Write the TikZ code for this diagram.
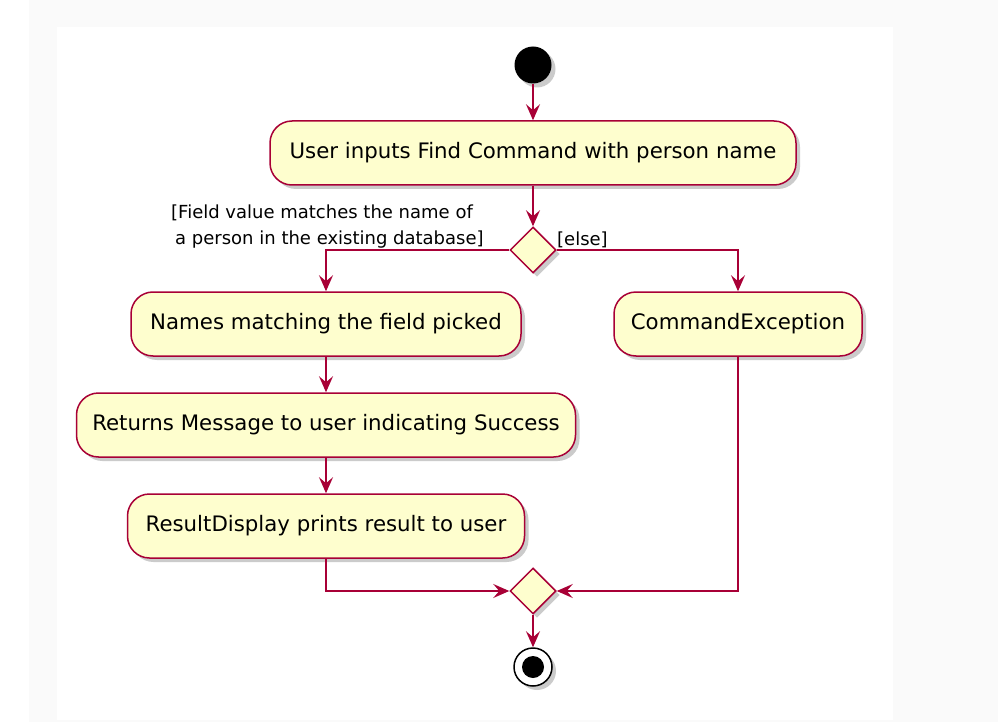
\documentclass[tikz,border=0pt]{standalone}
\usepackage{fontspec}
\setmainfont{DejaVu Sans}
\usetikzlibrary{arrows.meta,shapes.geometric,shadows}
\definecolor{umlred}{HTML}{A80036}
\definecolor{umlfill}{HTML}{FEFECE}
\definecolor{panelgray}{HTML}{FAFAFA}
\begin{document}
\begin{tikzpicture}[x=1pt,y=-1pt,
  shad/.style={drop shadow={shadow xshift=4pt, shadow yshift=-4pt, fill=black!40, opacity=0.5}},
  act/.style={draw=umlred, fill=umlfill, line width=1.5pt, rounded corners=22pt,
    minimum height=64pt, inner sep=0pt, font=\fontsize{21.3}{25}\selectfont, shad},
  dec/.style={diamond, aspect=1, draw=umlred, fill=umlfill, line width=1.5pt,
    minimum width=46pt, minimum height=46pt, inner sep=0pt, shad},
  flow/.style={draw=umlred, line width=1.5pt, -{Stealth[length=16pt,width=14pt,inset=6pt]}},
  guard/.style={font=\fontsize{18}{26}\selectfont, inner sep=0pt}
]
\useasboundingbox (0,0) rectangle (998,722);
\fill[white] (0,0) rectangle (998,722);
\fill[panelgray] (29,0) rectangle (998,722);
\fill[white] (57,27) rectangle (893,720);

\node[circle, fill=black, minimum size=37pt, inner sep=0pt, shad] (start) at (533,65) {};
\node[act, minimum width=526pt] (n1) at (533,153) {User inputs Find Command with person name};
\node[dec] (d1) at (533,250) {};
\node[act, minimum width=390pt] (n2) at (326,324) {Names matching the field picked};
\node[act, minimum width=248pt] (n3) at (738,324) {CommandException};
\node[act, minimum width=499pt] (n4) at (326,425) {Returns Message to user indicating Success};
\node[act, minimum width=397pt] (n5) at (326,526) {ResultDisplay prints result to user};
\node[dec] (d2) at (533,591) {};
\node[circle, draw=black, fill=white, line width=1.5pt, minimum size=38pt, inner sep=0pt, shad] (end) at (533,667) {};
\fill[black] (end.center) circle (11pt);

\node[guard, align=left, anchor=west] (g1) at (171,227) {[Field value matches the name of\\\hspace*{4pt}a person in the existing database]};
\node[guard, anchor=west] (g2) at (557,240) {[else]};

\draw[flow] (start) -- (n1);
\draw[flow] (n1) -- (d1);
\draw[flow] (d1.west) -| (n2.north);
\draw[flow] (d1.east) -| (n3.north);
\draw[flow] (n2) -- (n4);
\draw[flow] (n4) -- (n5);
\draw[flow] (n5.south) |- (d2.west);
\draw[flow] (n3.south) |- (d2.east);
\draw[flow] (d2) -- (end);
\end{tikzpicture}
\end{document}
